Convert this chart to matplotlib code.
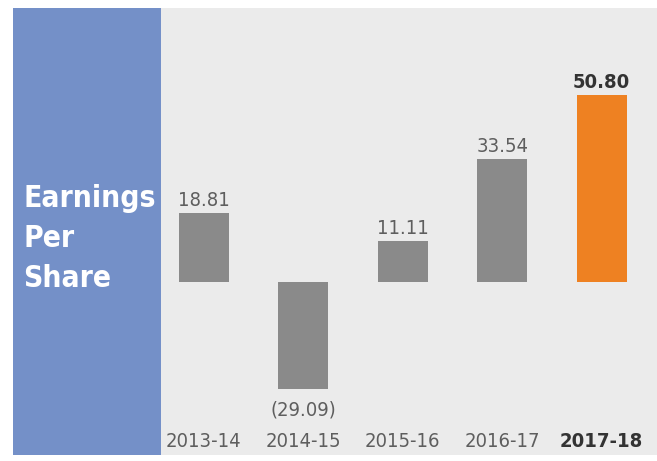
import matplotlib.pyplot as plt

plt.rcParams['font.family'] = ['DejaVu Sans']

years = ['2013-14', '2014-15', '2015-16', '2016-17', '2017-18']
eps = [18.81, -29.09, 11.11, 33.54, 50.80]
labels = ['18.81', '(29.09)', '11.11', '33.54', '50.80']

W, H = 657, 461
fig = plt.figure(figsize=(W / 100, H / 100), dpi=100)
fig.patch.set_facecolor('white')

# left blue title panel
side = fig.add_axes([13 / W, 1 - 455 / H, 148 / W, 447 / H])
side.set_facecolor('#7490c8')
side.set_xticks([])
side.set_yticks([])
for s in side.spines.values():
    s.set_visible(False)
side.set_xlim(0, 148)
side.set_ylim(447, 0)
for i, word in enumerate(['Earnings', 'Per', 'Share']):
    side.text(10, 199 + 40 * i, word, color='white', fontsize=21.5,
              fontweight='bold', fontstretch='condensed', va='baseline', ha='left')

# grey chart panel
ax = fig.add_axes([161 / W, 1 - 455 / H, 496 / W, 447 / H])
ax.set_facecolor('#ebebeb')
for s in ax.spines.values():
    s.set_visible(False)
ax.set_xticks([])
ax.set_yticks([])
ax.set_xlim(-0.43, 4.557)
ax.set_ylim(-47.0, 74.5)

x = list(range(len(years)))
colors = ['#8a8a8a'] * 4 + ['#ee8122']
ax.bar(x, eps, width=0.503, color=colors)

for xi, v, lab, yr in zip(x, eps, labels, years):
    last = yr == years[-1]
    c = '#333333' if last else '#5e5e5e'
    w = 'bold' if last else 'normal'
    if v >= 0:
        ax.annotate(lab, (xi, v), xytext=(0, 2), textcoords='offset points',
                    ha='center', va='bottom', fontsize=14.5, color=c,
                    fontweight=w, fontstretch='condensed')
    else:
        ax.annotate(lab, (xi, v), xytext=(0, -8), textcoords='offset points',
                    ha='center', va='top', fontsize=14.5, color=c,
                    fontweight=w, fontstretch='condensed')
    ax.text(xi, 0.008, yr, transform=ax.get_xaxis_transform(), ha='center',
            va='bottom', fontsize=14.5, color=c, fontweight=w,
            fontstretch='condensed')

fig.savefig('out.png', dpi=100)
